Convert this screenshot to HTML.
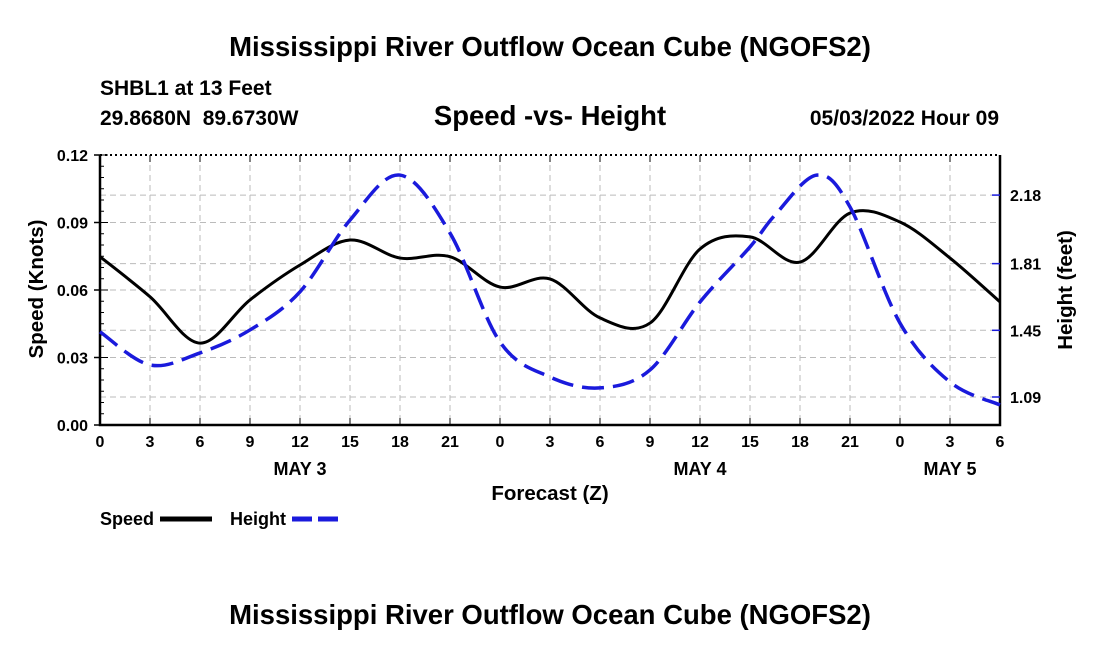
<!DOCTYPE html>
<html><head><meta charset="utf-8"><style>
body{margin:0;background:#fff;width:1100px;height:650px;overflow:hidden;font-family:"Liberation Sans",sans-serif}
svg text{font-family:"Liberation Sans",sans-serif;font-weight:bold;fill:#000}
</style></head><body>
<svg id="chart" width="1100" height="650">
<text x="550" y="56" font-size="27.5" text-anchor="middle">Mississippi River Outflow Ocean Cube (NGOFS2)</text>
<text x="100" y="95" font-size="21">SHBL1 at 13 Feet</text>
<text x="100" y="125" font-size="21">29.8680N&#160;&#160;89.6730W</text>
<text x="550" y="125" font-size="27.5" text-anchor="middle">Speed -vs- Height</text>
<text x="999" y="125" font-size="21" text-anchor="end">05/03/2022 Hour 09</text>
<g id="grid"></g><g id="axes"></g><g id="series"></g>
<text x="550" y="500" font-size="20.5" text-anchor="middle">Forecast (Z)</text>
<text transform="translate(43,289) rotate(-90)" font-size="20.5" text-anchor="middle">Speed (Knots)</text>
<text transform="translate(1072,290) rotate(-90)" font-size="20.5" text-anchor="middle">Height (feet)</text>
<g>
<text x="100" y="525" font-size="18">Speed</text>
<line x1="160" y1="519" x2="212" y2="519" stroke="#000" stroke-width="5"/>
<text x="230" y="525" font-size="18">Height</text>
<line x1="292" y1="519" x2="342" y2="519" stroke="#1a1adc" stroke-width="5" stroke-dasharray="20,6"/>
</g>
<text x="550" y="624" font-size="27.5" text-anchor="middle">Mississippi River Outflow Ocean Cube (NGOFS2)</text>
</svg>
<script>
const tickHours=[0,3,6,9,12,15,18,21,24,27,30,33,36,39,42,45,48,51,54];
const xTickLabels=["0","3","6","9","12","15","18","21","0","3","6","9","12","15","18","21","0","3","6"];
const dayLabels=["MAY 3","MAY 4","MAY 5"];
const dayHours=[12,36,51];
const speedHours=[0,3,6,9,12,15,18,21,24,27,30,33,36,39,42,45,48,51,54];
const speed=[0.0748,0.0570,0.0364,0.0556,0.0711,0.0822,0.0742,0.0748,0.0613,0.0649,0.0476,0.0453,0.0782,0.0836,0.0724,0.0942,0.0902,0.0742,0.0547];
const heightHours=[0,3,6,9,12,15,18,21,24,27,30,33,36,39,40.5,43,45,48,51,54];
const height=[1.442,1.263,1.328,1.452,1.658,2.045,2.288,1.975,1.387,1.198,1.139,1.236,1.603,1.900,2.072,2.288,2.116,1.489,1.171,1.047];
const leftTicks=[0,0.03,0.06,0.09,0.12];
const rightTicks=[1.09,1.45,1.81,2.18];
const X0=100,X1=1000,Y0=425,Y1=155;
const xs=h=>X0+(h/54)*(X1-X0);
const yl=v=>Y0-(v/0.12)*(Y0-Y1);
const yr=v=>397-(v-1.09)/0.3633*67.3;
const NS="http://www.w3.org/2000/svg";
function mk(p,tag,a){const e=document.createElementNS(NS,tag);for(const k in a)e.setAttribute(k,a[k]);p.appendChild(e);return e;}
const grid=document.getElementById('grid'),axes=document.getElementById('axes'),ser=document.getElementById('series');
for(let i=1;i<18;i++){const l=mk(grid,'line',{x1:xs(i*3),x2:xs(i*3),y1:Y1,y2:Y0,stroke:'#bbb','stroke-dasharray':'6,4'});

}
leftTicks.slice(1,4).forEach(v=>{const y=yl(v);const l=mk(grid,'line',{x1:X0,x2:X1,y1:y,y2:y,stroke:'#bbb','stroke-dasharray':'6,4'});

});
rightTicks.forEach(v=>{const y=yr(v);const l=mk(grid,'line',{x1:X0,x2:X1,y1:y,y2:y,stroke:'#bbb','stroke-dasharray':'6,4'});

});
const frame=mk(axes,'path',{d:`M${X0},${Y1}V${Y0}H${X1}V${Y1}`,stroke:'#000','stroke-width':2.5,fill:'none'});


const topBorder=mk(axes,'line',{x1:X0,x2:X1,y1:Y1,y2:Y1,stroke:'#000','stroke-width':2,'stroke-dasharray':'2,3'});


tickHours.forEach((h,i)=>{mk(axes,'line',{x1:xs(h),x2:xs(h),y1:Y0,y2:Y0-7,stroke:'#000'});mk(axes,'line',{x1:xs(h),x2:xs(h),y1:Y1,y2:Y1+7,stroke:'#000'});
const t=mk(axes,'text',{x:xs(h),y:Y0+22,'font-size':16,'text-anchor':'middle'});t.textContent=xTickLabels[i];

});
dayLabels.forEach((d,i)=>{const t=mk(axes,'text',{x:xs(dayHours[i]),y:Y0+50,'font-size':18,'text-anchor':'middle'});t.textContent=d;

});
for(let i=0;i<=24;i++){const y=yl(i*0.005);mk(axes,'line',{x1:X0,x2:X0+(i%6==0?8:4),y1:y,y2:y,stroke:'#000'});}
leftTicks.forEach(v=>{mk(axes,'line',{x1:X0-6,x2:X0,y1:yl(v),y2:yl(v),stroke:'#000','stroke-width':1.5});
const t=mk(axes,'text',{x:X0-12,y:yl(v)+6,'font-size':16,'text-anchor':'end'});t.textContent=v.toFixed(2);

});
rightTicks.forEach(v=>{mk(axes,'line',{x1:X1,x2:X1-8,y1:yr(v),y2:yr(v),stroke:'#1a1adc','stroke-width':1.5});
const t=mk(axes,'text',{x:X1+10,y:yr(v)+6,'font-size':16});t.textContent=v.toFixed(2);

});
function smooth(pts){let d=`M${pts[0][0]},${pts[0][1]}`;for(let i=0;i<pts.length-1;i++){const p0=pts[Math.max(0,i-1)],p1=pts[i],p2=pts[i+1],p3=pts[Math.min(pts.length-1,i+2)];
d+=`C${p1[0]+(p2[0]-p0[0])/6},${p1[1]+(p2[1]-p0[1])/6} ${p2[0]-(p3[0]-p1[0])/6},${p2[1]-(p3[1]-p1[1])/6} ${p2[0]},${p2[1]}`;}return d;}
const sp=mk(ser,'path',{d:smooth(speedHours.map((h,i)=>[xs(h),yl(speed[i])])),stroke:'#000','stroke-width':3,fill:'none'});


const hp=mk(ser,'path',{d:smooth(heightHours.map((h,i)=>[xs(h),yr(height[i])])),stroke:'#1a1adc','stroke-width':3.5,fill:'none','stroke-dasharray':'22,9'});


</script>
</body></html>
